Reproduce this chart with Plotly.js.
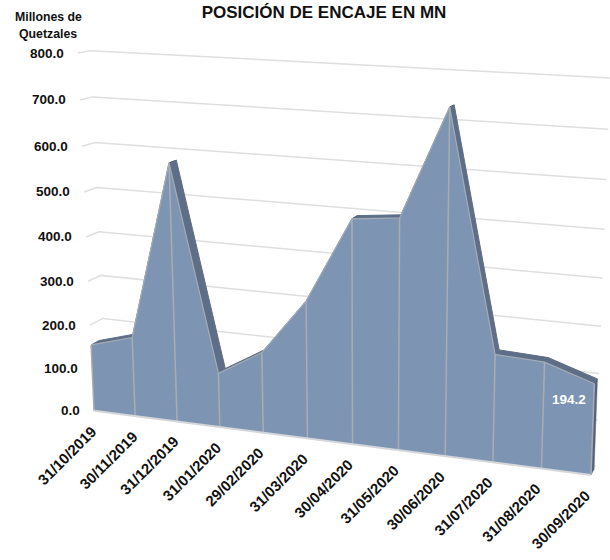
<!DOCTYPE html>
<html><head><meta charset="utf-8">
<script src="https://cdn.plot.ly/plotly-3.0.1.min.js"></script>
<style>html,body{margin:0;padding:0;background:#fff}#c{width:610px;height:560px}</style>
</head><body><div id="c"></div>
<script>
const dates = ["31/10/2019","30/11/2019","31/12/2019","31/01/2020","29/02/2020","31/03/2020","30/04/2020","31/05/2020","30/06/2020","31/07/2020","31/08/2020","30/09/2020"];
const values = [154,182,578,123,181,305,490,500,732,233,228,194.2];
const yTicks = [0,100,200,300,400,500,600,700,800];

const FONT = '"Liberation Sans", Arial, sans-serif';
// perspective of the 3D chart: value plane corners -> homography
const corners = {p00:[94,410.7], p10:[591,475], p11:[605.6,80.7], p01:[78,53]};
const VP = [900,-100];
const N = dates.length-1, VMAX = 800;
function makeH(c){
  const [x0,y0]=c.p00,[x1,y1]=c.p10,[x2,y2]=c.p11,[x3,y3]=c.p01;
  const dx1=x1-x2,dx2=x3-x2,sx=x0-x1+x2-x3,dy1=y1-y2,dy2=y3-y2,sy=y0-y1+y2-y3;
  const d=dx1*dy2-dx2*dy1;
  const g=(sx*dy2-dx2*sy)/d,h=(dx1*sy-sx*dy1)/d;
  const a=x1-x0+g*x1,b=x3-x0+h*x3,e=y1-y0+g*y1,f=y3-y0+h*y3;
  return (u,v)=>{const w=g*u+h*v+1;return [(a*u+b*v+x0)/w,(e*u+f*v+y0)/w];};
}
const H = makeH(corners);
const front = (i,v)=>H(i/N,v/VMAX);
const depth = (p,t)=>[p[0]+t*(VP[0]-p[0]),p[1]+t*(VP[1]-p[1])];
const AREA_T = 0.01, WALL_T = 0.0155;

const traces=[];
function poly(pts,fill,line,lw){
  traces.push({type:'scatter',mode:line?'lines':'none',x:pts.map(p=>p?p[0]:null),y:pts.map(p=>p?p[1]:null),
    fill:fill?'toself':'none',fillcolor:fill||undefined,line:{color:line||'rgba(0,0,0,0)',width:lw||0},hoverinfo:'skip',showlegend:false});
}
const grid=[];
yTicks.forEach(v=>{const a=front(0,v),b=depth(a,WALL_T),c=depth(front(N,v),WALL_T);grid.push(a,b,c,null);});
poly(grid,null,'#dfdfdf',1.5);
for(let i=0;i<N;i++){
  const a=front(i,values[i]),b=front(i+1,values[i+1]);
  poly([a,b,depth(b,AREA_T),depth(a,AREA_T),a],'#5e6e86','#5e6e86',1);
}
const bR=front(N,0),tR=front(N,values[N]);
poly([bR,tR,depth(tR,AREA_T),depth(bR,AREA_T),bR],'#54637a','#54637a',0.5);
const face=[];
for(let i=0;i<=N;i++)face.push(front(i,values[i]));
const outline=face.slice();
face.push(front(N,0),front(0,0),face[0]);
poly(face,'#7d94b2',null,0);
poly(outline,null,'#a3abb6',1.2);
const drops=[];
for(let i=0;i<=N;i++)drops.push(front(i,0),front(i,values[i]),null);
poly(drops,null,'#a9adb3',1.5);
poly([front(0,0),front(N,0)],null,'#d4d6d9',2);

const ann=[];
yTicks.forEach(v=>{const p=front(0,v);ann.push({x:p[0]-12,y:p[1],text:'<b>'+v.toFixed(1)+'</b>',xanchor:'right',yanchor:'middle',showarrow:false,font:{family:FONT,size:13.5,color:'#111'}});});
dates.forEach((d,i)=>{const p=front(i,0);ann.push({x:p[0]+8-3*i/N,y:p[1]+9,text:'<b>'+d+'</b>',textangle:-45,xanchor:'right',yanchor:'top',showarrow:false,font:{family:FONT,size:15,color:'#111'}});});
ann.push({x:48,y:17,text:'<b>Millones de</b>',showarrow:false,xanchor:'center',yanchor:'middle',font:{family:FONT,size:12.3,color:'#111'}});
ann.push({x:48,y:34,text:'<b>Quetzales</b>',showarrow:false,xanchor:'center',yanchor:'middle',font:{family:FONT,size:12.3,color:'#111'}});
ann.push({x:569,y:399,text:'<b>'+values[N].toFixed(1)+'</b>',showarrow:false,xanchor:'center',yanchor:'middle',font:{family:FONT,size:13.5,color:'#fff'}});

Plotly.newPlot('c',traces,{
  width:610,height:560,margin:{l:0,r:0,t:0,b:0},paper_bgcolor:'#fff',plot_bgcolor:'#fff',showlegend:false,
  title:{text:'<b>POSICIÓN DE ENCAJE EN MN</b>',x:324/610,xanchor:'center',y:1-12/560,yanchor:'middle',font:{family:FONT,size:17,color:'#111'}},
  xaxis:{range:[0,610],visible:false,fixedrange:true},
  yaxis:{range:[560,0],visible:false,fixedrange:true},
  annotations:ann
},{displayModeBar:false,staticPlot:true});
</script></body></html>
